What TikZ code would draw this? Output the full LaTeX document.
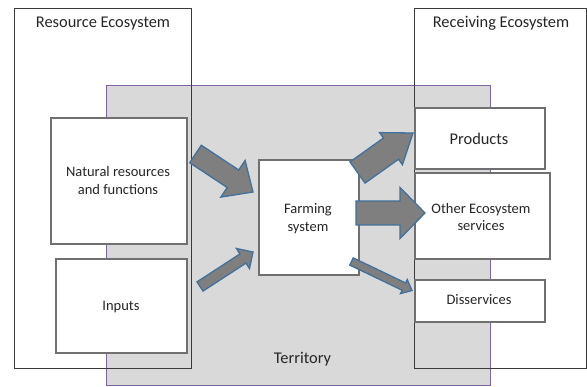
\documentclass[tikz,border=0pt]{standalone}
\usepackage{fontspec}
\setmainfont{Carlito}
\usetikzlibrary{calc}
\definecolor{terrfill}{HTML}{D9D9D9}
\definecolor{terrline}{HTML}{8064A2}
\definecolor{outline}{HTML}{3A3A3A}
\definecolor{inline}{HTML}{707070}
\definecolor{arrfill}{HTML}{7F7F7F}
\definecolor{arrline}{HTML}{41719C}
\definecolor{txt}{HTML}{262626}
\tikzset{
  ecobox/.style={draw=outline, line width=1.4pt, inner sep=0pt, anchor=north west},
  innerbox/.style={draw=inline, fill=white, line width=1.8pt, inner sep=0pt, anchor=north west},
  terrbox/.style={draw=terrline, fill=terrfill, line width=1pt, inner sep=0pt, anchor=north west},
  barrow/.style={fill=arrfill, draw=arrline, line width=1.3pt, line join=miter},
  bigtext/.style={font=\fontsize{16.4}{19}\selectfont, text=txt, inner sep=0pt, anchor=base},
  smalltext/.style={font=\fontsize{14.5}{17.5}\selectfont, text=txt, inner sep=0pt, align=center},
}
% tail, tip, shaft half width, head half width, head length
\newcommand{\blockarr}[5]{%
  \coordinate (bahead) at ($(#2)!#5!(#1)$);
  \draw[barrow] ($(#1)!#3!90:(#2)$) -- ($(bahead)!#3!90:(#2)$) -- ($(bahead)!#4!90:(#2)$)
    -- (#2) -- ($(bahead)!#4!-90:(#2)$) -- ($(bahead)!#3!-90:(#2)$) -- ($(#1)!#3!-90:(#2)$) -- cycle;
}
\begin{document}
\begin{tikzpicture}[x=1pt, y=-1pt]
  \useasboundingbox (0,0) rectangle (587,387);
  % territory
  \node[terrbox, minimum width=384pt, minimum height=300.5pt] (terr) at (106,85) {};
  % ecosystems
  \node[ecobox, minimum width=177pt, minimum height=360pt] (res) at (14,8) {};
  \node[ecobox, minimum width=171.5pt, minimum height=360pt] (rec) at (414,8) {};
  % inner boxes
  \node[innerbox, minimum width=136pt, minimum height=126pt] (nat) at (50,117) {};
  \node[innerbox, minimum width=131pt, minimum height=94pt] (inp) at (55,258) {};
  \node[innerbox, minimum width=100pt, minimum height=115pt] (farm) at (258,159) {};
  \node[innerbox, minimum width=130pt, minimum height=61pt] (prod) at (414,107) {};
  \node[innerbox, minimum width=135pt, minimum height=86pt] (oth) at (414,172) {};
  \node[innerbox, minimum width=130pt, minimum height=42pt] (dis) at (414,279) {};
  % arrow ends
  \coordinate (a1t) at (195.5,154);  \coordinate (a1h) at (253,192);
  \coordinate (a2t) at (200,286.5);  \coordinate (a2h) at (253,252);
  \coordinate (a3t) at (357.5,172.5); \coordinate (a3h) at (413,133);
  \coordinate (a4t) at (356,213);    \coordinate (a4h) at (425,213);
  \coordinate (a5t) at (351.5,261.5); \coordinate (a5h) at (412,290.5);
  \blockarr{a1t}{a1h}{10.5pt}{22pt}{24pt}
  \blockarr{a2t}{a2h}{5.5pt}{12pt}{12pt}
  \blockarr{a3t}{a3h}{13pt}{19.7pt}{27pt}
  \blockarr{a4t}{a4h}{12pt}{25.5pt}{25pt}
  \blockarr{a5t}{a5h}{4pt}{7.8pt}{9pt}
  % texts
  \node[bigtext] (tres) at (103,27.5) {Resource Ecosystem};
  \node[bigtext] (trec) at (501,28) {Receiving Ecosystem};
  \node[bigtext] (tterr) at (302.5,364) {Territory};
  \node[bigtext] (tprod) at (479,145) {Products};
  \node[smalltext] (tnat) at (118,180.5) {Natural resources\\and functions};
  \node[smalltext, anchor=base] (tinp) at (121,310.5) {Inputs};
  \node[smalltext] (tfarm) at (308,218.5) {Farming\\system};
  \node[smalltext] (toth) at (481,217) {Other Ecosystem\\services};
  \node[smalltext, anchor=base] (tdis) at (479,305) {Disservices};
\end{tikzpicture}
\end{document}
